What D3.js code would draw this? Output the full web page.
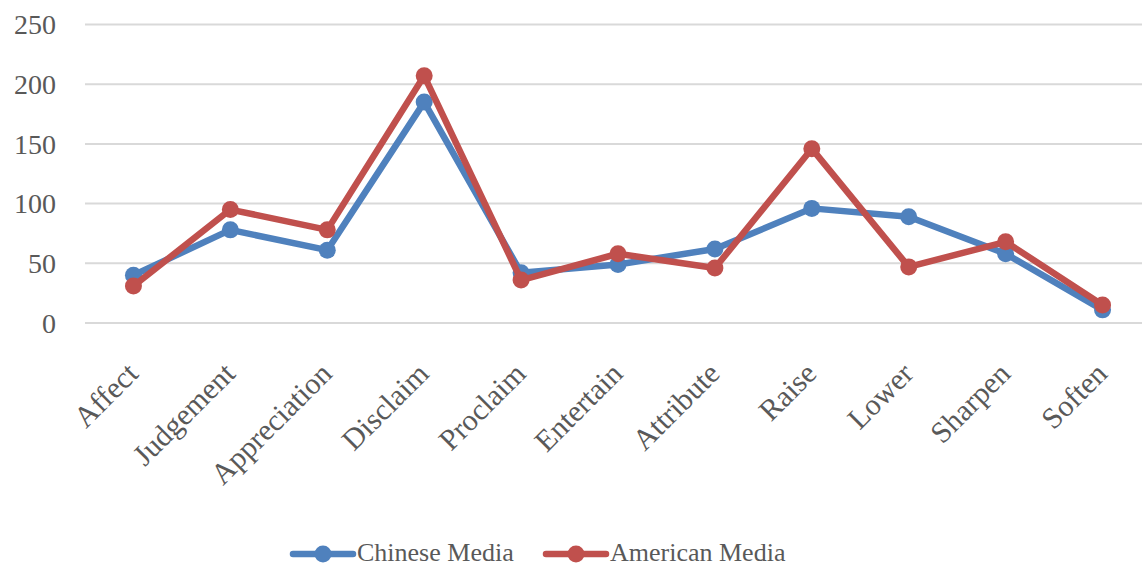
<!DOCTYPE html>
<html><head><meta charset="utf-8">
<script src="https://cdn.jsdelivr.net/npm/d3@7"></script>
<style>
html,body{margin:0;padding:0;background:#fff;}
svg text{font-family:"Liberation Serif","Times New Roman",serif;fill:#595959;}
</style></head>
<body>
<svg id="chart" width="1142" height="567"></svg>
<script>
const categories = ["Affect","Judgement","Appreciation","Disclaim","Proclaim","Entertain","Attribute","Raise","Lower","Sharpen","Soften"];
const chineseMedia = [40, 78, 61, 185, 42, 49, 62, 96, 89, 58, 11];
const americanMedia = [31, 95, 78, 207, 36, 58, 46, 146, 47, 68, 15];
const yTicks = [0, 50, 100, 150, 200, 250];
const seriesNames = ["Chinese Media", "American Media"];
const seriesColors = ["#4f81bd", "#c0504d"];

const svg = d3.select("#chart");
const x = d3.scaleBand().domain(categories).range([85, 1151]);
const y = d3.scaleLinear().domain([0, 250]).range([323, 24.5]);

// gridlines
svg.append("g").selectAll("line").data(yTicks).join("line")
  .attr("x1", 85).attr("x2", 1142)
  .attr("y1", d => y(d)).attr("y2", d => y(d))
  .attr("stroke", "#d9d9d9").attr("stroke-width", 2);

// y tick labels
svg.append("g").selectAll("text").data(yTicks).join("text")
  .attr("x", 56).attr("y", d => y(d)).attr("dy", "0.35em")
  .attr("text-anchor", "end").attr("font-size", 28)
  .text(d => d);

// x labels
svg.append("g").selectAll("text").data(categories).join("text")
  .attr("transform", d => `translate(${x(d) + x.bandwidth()/2 - 1},${368}) rotate(-45)`)
  .attr("dy", "0.35em")
  .attr("text-anchor", "end").attr("font-size", 30)
  .text(d => d);

const series = [chineseMedia, americanMedia];
const line = d3.line().x((d, i) => x(categories[i]) + x.bandwidth()/2).y(d => y(d));

series.forEach((vals, si) => {
  const g = svg.append("g");
  g.append("path").datum(vals).attr("d", line)
    .attr("fill", "none").attr("stroke", seriesColors[si])
    .attr("stroke-width", 6.5).attr("stroke-linejoin", "round").attr("stroke-linecap", "round");
  g.selectAll("circle").data(vals).join("circle")
    .attr("cx", (d, i) => x(categories[i]) + x.bandwidth()/2)
    .attr("cy", d => y(d)).attr("r", 8.5)
    .attr("fill", seriesColors[si]);
});

// legend
const legendX = [293, 546];
const lg = svg.append("g");
seriesNames.forEach((name, i) => {
  const gx = legendX[i];
  lg.append("line").attr("x1", gx).attr("x2", gx + 60).attr("y1", 554).attr("y2", 554)
    .attr("stroke", seriesColors[i]).attr("stroke-width", 6.5).attr("stroke-linecap", "round");
  lg.append("circle").attr("cx", gx + 30).attr("cy", 554).attr("r", 8.5).attr("fill", seriesColors[i]);
  lg.append("text").attr("x", gx + 64).attr("y", 561).attr("font-size", 26).text(name);
});
</script>
</body></html>
